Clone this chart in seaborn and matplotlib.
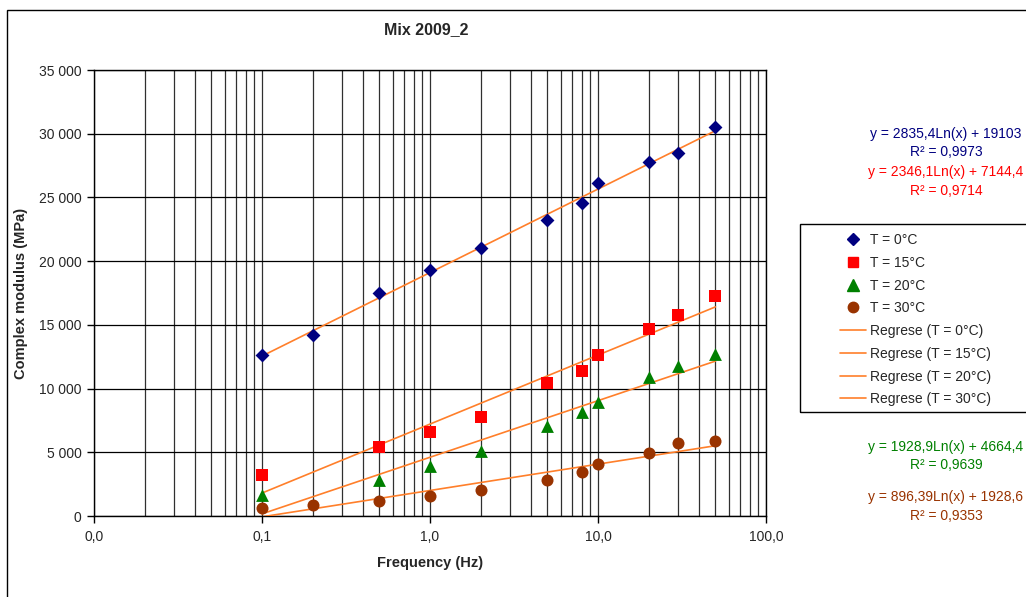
import numpy as np
import pandas as pd
import seaborn as sns
import matplotlib.pyplot as plt
from matplotlib.patches import Rectangle
from matplotlib.lines import Line2D

# data
freq_0 = [0.1, 0.2, 0.5, 1, 2, 5, 8, 10, 20, 30, 50]
mod_0 = [12650, 14200, 17500, 19300, 21050, 23200, 24600, 26100, 27750, 28500, 30550]
freq_15 = [0.1, 0.5, 1, 2, 5, 8, 10, 20, 30, 50]
mod_15 = [3200, 5400, 6600, 7800, 10400, 11350, 12650, 14650, 15750, 17250]
freq_20 = [0.1, 0.5, 1, 2, 5, 8, 10, 20, 30, 50]
mod_20 = [1650, 2850, 3900, 5100, 7050, 8150, 8950, 10900, 11800, 12750]
freq_30 = [0.1, 0.2, 0.5, 1, 2, 5, 8, 10, 20, 30, 50]
mod_30 = [650, 850, 1200, 1550, 2050, 2850, 3450, 4050, 4950, 5700, 5850]

series_labels = ['T = 0°C', 'T = 15°C', 'T = 20°C', 'T = 30°C']
fit_labels = ['Regrese (T = 0°C)', 'Regrese (T = 15°C)', 'Regrese (T = 20°C)', 'Regrese (T = 30°C)']
equations = ['y = 2835,4Ln(x) + 19103', 'y = 2346,1Ln(x) + 7144,4',
             'y = 1928,9Ln(x) + 4664,4', 'y = 896,39Ln(x) + 1928,6']
r2_texts = ['R² = 0,9973', 'R² = 0,9714', 'R² = 0,9639', 'R² = 0,9353']
x_ticks = [0.01, 0.1, 1, 10, 100]
x_tick_labels = ['0,0', '0,1', '1,0', '10,0', '100,0']
y_ticks = [0, 5000, 10000, 15000, 20000, 25000, 30000, 35000]
y_tick_labels = ['0', '5 000', '10 000', '15 000', '20 000', '25 000', '30 000', '35 000']

colors = ['#000080', '#FF0000', '#008000', '#993300']
markers = ['D', 's', '^', 'o']
sizes = [50, 75, 85, 75]
fit_color = '#FF7F2A'

sns.set_style('white')
plt.rcParams['font.family'] = ['Liberation Sans', 'DejaVu Sans']

W, H = 1026, 597
fig = plt.figure(figsize=(W / 100, H / 100), dpi=100)
ax = fig.add_axes([94 / W, 1 - 516 / H, (766 - 94) / W, (516 - 70) / H])

all_freq = [freq_0, freq_15, freq_20, freq_30]
all_mod = [mod_0, mod_15, mod_20, mod_30]

for i in range(4):
    df = pd.DataFrame({'f': all_freq[i], 'E': all_mod[i]})
    sns.regplot(data=df, x='f', y='E', logx=True, ci=None, scatter=False, truncate=True,
                ax=ax, line_kws=dict(color=fit_color, lw=1.2, zorder=3))
    sns.scatterplot(data=df, x='f', y='E', marker=markers[i], color=colors[i], s=sizes[i],
                    edgecolor=colors[i], linewidth=0, ax=ax, zorder=4)

ax.set_xscale('log')
ax.set_xlim(0.01, 100)
ax.set_ylim(0, 35000)
ax.set_xticks(x_ticks)
ax.set_xticklabels(x_tick_labels)
ax.set_yticks(y_ticks)
ax.set_yticklabels(y_tick_labels)
ax.xaxis.set_minor_locator(plt.matplotlib.ticker.LogLocator(base=10, subs=np.arange(2, 10)))
ax.xaxis.set_minor_formatter(plt.NullFormatter())
ax.tick_params(axis='both', which='major', direction='out', length=5, width=1, color='black',
               labelsize=10, bottom=True, left=True)
ax.tick_params(axis='x', which='major', pad=5)
ax.tick_params(axis='y', which='major', pad=4)
ax.tick_params(axis='x', which='minor', length=0)
ax.grid(True, which='both', axis='x', color='#303030', lw=0.9)
ax.grid(True, which='major', axis='y', color='black', lw=0.9)
for s in ax.spines.values():
    s.set_color('black')
    s.set_linewidth(1)

ax.set_xlabel('Frequency (Hz)', fontsize=10.5, fontweight='bold', labelpad=9)
ax.set_ylabel('Complex modulus (MPa)', fontsize=10.5, fontweight='bold', labelpad=8)
fig.text(426 / W, 1 - 30 / H, 'Mix 2009_2', ha='center', va='center', fontsize=11.5, fontweight='bold')

# equation labels
eq_y = [(134, 152), (172, 191), (447, 465), (497, 516)]
for i in range(4):
    fig.text(946 / W, 1 - eq_y[i][0] / H, equations[i], ha='center', va='center',
             fontsize=10, color=colors[i])
    fig.text(946 / W, 1 - eq_y[i][1] / H, r2_texts[i], ha='center', va='center',
             fontsize=10, color=colors[i])

# legend
handles = []
for i in range(4):
    handles.append(Line2D([], [], ls='none', marker=markers[i], color=colors[i],
                          markersize=[6.5, 7.5, 8, 7.5][i]))
for i in range(4):
    handles.append(Line2D([], [], color=fit_color, lw=1.2))
fig.patches.append(Rectangle((800 / W, 1 - 412 / H), 240 / W, 188 / H, transform=fig.transFigure,
                             fill=False, edgecolor='black', lw=1))
leg = fig.legend(handles, series_labels + fit_labels, loc='upper left',
                 bbox_to_anchor=(840 / W, 1 - 233 / H), bbox_transform=fig.transFigure,
                 frameon=False, fontsize=10, handlelength=1.9, handletextpad=0.25,
                 labelspacing=0.63, borderpad=0, borderaxespad=0)

# outer chart border
fig.patches.append(Rectangle((7 / W, -0.1), 1.1, 1.1 - 10 / H, transform=fig.transFigure,
                             fill=False, edgecolor='black', lw=1))

fig.savefig('out.png', dpi=100)
